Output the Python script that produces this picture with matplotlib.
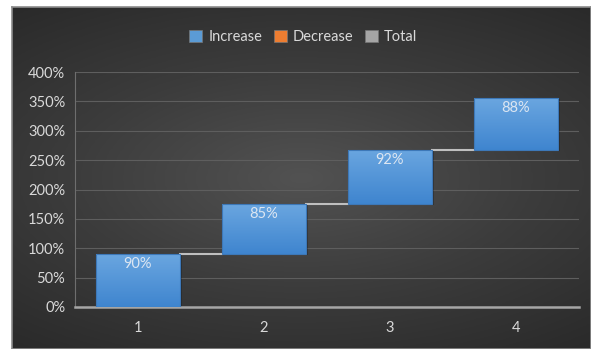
import numpy as np
import matplotlib.pyplot as plt
from matplotlib.colors import LinearSegmentedColormap
from matplotlib.patches import Rectangle

categories = ["1", "2", "3", "4"]
increase = [0.90, 0.85, 0.92, 0.88]
legend_labels = ["Increase", "Decrease", "Total"]
legend_colors = ["#5b9bd5", "#ed7d31", "#a5a5a5"]

plt.rcParams['font.family'] = ['Lato', 'DejaVu Sans']

fig = plt.figure(figsize=(5.91, 3.49), dpi=100)
fig.patch.set_facecolor("white")

# dark chart background with radial gradient, inset from top/left
bg = fig.add_axes([12 / 591, 0, 579 / 591, 342 / 349])
yy, xx = np.mgrid[-1:1:200j, -1:1:300j]
r = np.sqrt((xx * 0.8) ** 2 + (yy * 1.0) ** 2)
bg_cmap = LinearSegmentedColormap.from_list("bg", ["#525252", "#3c3c3c", "#2a2a2a"])
bg.imshow(r, cmap=bg_cmap, vmin=0, vmax=1.28, aspect="auto",
          extent=[0, 1, 0, 1], interpolation="bilinear")
bg.set_xlim(0, 1)
bg.set_ylim(0, 1)
bg.set_xticks([])
bg.set_yticks([])
for s in bg.spines.values():
    s.set_color("#8c8c8c")
    s.set_linewidth(1.2)

ax = fig.add_axes([75 / 591, (349 - 307) / 349, 504 / 591, 235 / 349])
ax.set_facecolor("none")

x = np.arange(len(categories))
bottoms = np.concatenate([[0], np.cumsum(increase)[:-1]])
tops = bottoms + np.array(increase)
width = 0.67
bar_cmap = LinearSegmentedColormap.from_list("b", ["#3f85cf", "#6aa6e0"])

for xi, b, v in zip(x, bottoms, increase):
    # slight shadow
    ax.add_patch(Rectangle((xi - width / 2 + 0.015, b - 0.012), width, v,
                           facecolor="black", alpha=0.25, zorder=2, lw=0))
    rect = Rectangle((xi - width / 2, b), width, v, facecolor="none",
                     edgecolor="#3d78b8", lw=0.8, zorder=4)
    ax.add_patch(rect)
    grad = np.linspace(0, 1, 100).reshape(-1, 1)
    im = ax.imshow(grad, cmap=bar_cmap, aspect="auto",
                   extent=[xi - width / 2, xi + width / 2, b, b + v],
                   origin="lower", zorder=3)
    im.set_clip_path(rect)
    ax.text(xi, b + v - 0.05, f"{v * 100:.0f}%", ha="center", va="top",
            color="#dce6f2", fontsize=10.5, zorder=5)

# connector lines
for i in range(len(x) - 1):
    ax.plot([x[i] + width / 2, x[i + 1] - width / 2], [tops[i], tops[i]],
            color="#bfbfbf", lw=1.5, zorder=2)

ax.set_xlim(-0.5, len(categories) - 0.5)
ax.set_ylim(0, 4.0)
ax.set_yticks(np.arange(0, 4.01, 0.5))
ax.set_yticklabels([f"{int(round(t * 100))}%" for t in np.arange(0, 4.01, 0.5)])
ax.set_xticks(x)
ax.set_xticklabels(categories)
ax.tick_params(colors="#d9d9d9", labelsize=10.5, length=0)
ax.tick_params(axis="x", pad=10)
ax.tick_params(axis="y", pad=7)
ax.grid(axis="y", color="#5e5e5e", lw=0.8)
ax.set_axisbelow(True)
for s in ["top", "right"]:
    ax.spines[s].set_visible(False)
ax.spines["bottom"].set_color("#a6a6a6")
ax.spines["bottom"].set_linewidth(1.8)
ax.spines["left"].set_color("#6e6e6e")
ax.spines["left"].set_linewidth(0.8)

handles = [Rectangle((0, 0), 1, 1, facecolor=c, edgecolor="#777777", lw=0.5)
           for c in legend_colors]
fig.legend(handles, legend_labels, loc="center", bbox_to_anchor=(0.513, 1 - 37 / 349),
           ncol=3, frameon=False, fontsize=10.5, labelcolor="#d9d9d9",
           handlelength=0.9, handleheight=0.9, handletextpad=0.4, columnspacing=0.8)

fig.savefig("out.png", dpi=100)
